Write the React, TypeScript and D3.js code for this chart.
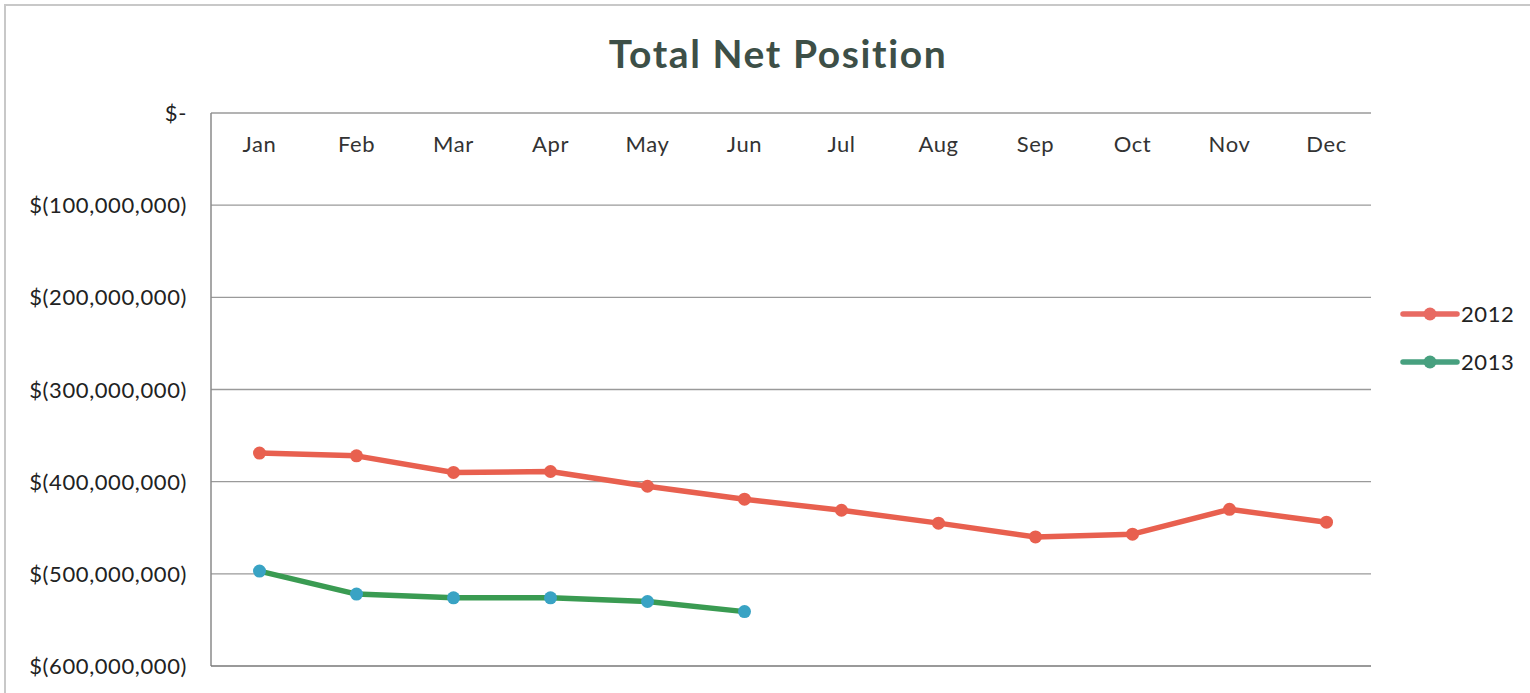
import React from "react";
import * as d3 from "d3";

const months = ["Jan", "Feb", "Mar", "Apr", "May", "Jun", "Jul", "Aug", "Sep", "Oct", "Nov", "Dec"];
const net2012 = [-369, -372, -390, -389, -405, -419, -431, -445, -460, -457, -430, -444].map((v) => v * 1e6);
const net2013 = [-497, -522, -526, -526, -530, -541].map((v) => v * 1e6);
const yTicks = [0, -100e6, -200e6, -300e6, -400e6, -500e6, -600e6];

const series = [
  { name: "2012", values: net2012, line: "#E8604F", dot: "#E8604F", legend: "#E86A62" },
  { name: "2013", values: net2013, line: "#3A9B52", dot: "#39A3C4", legend: "#47A07F" },
];

const W = 1530;
const H = 693;
const margin = { left: 211, right: 155, top: 113, bottom: 27 };
const font = "Lato, 'Open Sans', sans-serif";

const fmt = (v: number) => (v === 0 ? "$-" : `$(${d3.format(",")(Math.abs(v))})`);

export default function App() {
  const x = d3
    .scaleBand()
    .domain(months)
    .range([margin.left, W - margin.right]);

  const y = d3
    .scaleLinear()
    .domain([-600e6, 0])
    .range([H - margin.bottom, margin.top]);

  const line = d3
    .line<number>()
    .x((_, i) => (x(months[i]) as number) + x.bandwidth() / 2)
    .y((d) => y(d));

  return (
    <svg width={W} height={H} style={{ position: "absolute", left: 0, top: 0, background: "#fff" }}>
      <rect x={5} y={5} width={W + 10} height={H} fill="none" stroke="#c8c8c8" strokeWidth={2} />
      <text
        x={778}
        y={68}
        textAnchor="middle"
        fontFamily={font}
        fontWeight="bold"
        fontSize={39}
        letterSpacing={1.6}
        fill="#3D4F47"
      >
        Total Net Position
      </text>

      {yTicks.map((t) => (
        <g key={t}>
          {t !== -600e6 && (
            <line x1={margin.left} x2={W - margin.right - 4} y1={y(t)} y2={y(t)} stroke="#9a9a9a" strokeWidth={1.3} />
          )}
          <text
            x={187}
            y={y(t) + 8}
            textAnchor="end"
            fontFamily={font}
            fontSize={22}
            letterSpacing={0.6}
            fill="#222"
          >
            {fmt(t)}
          </text>
        </g>
      ))}
      <line x1={margin.left} x2={margin.left} y1={margin.top} y2={H - margin.bottom} stroke="#8a8a8a" strokeWidth={1.5} />
      <line x1={margin.left} x2={W - margin.right - 4} y1={y(-600e6)} y2={y(-600e6)} stroke="#777" strokeWidth={1.5} />

      {months.map((m) => (
        <text
          key={m}
          x={(x(m) as number) + x.bandwidth() / 2}
          y={152}
          textAnchor="middle"
          fontFamily={font}
          fontSize={22}
          letterSpacing={0.6}
          fill="#333"
        >
          {m}
        </text>
      ))}

      {series.map((s) => (
        <g key={s.name}>
          <path d={line(s.values) || ""} fill="none" stroke={s.line} strokeWidth={5.5} strokeLinejoin="round" />
          {s.values.map((v, i) => (
            <circle
              key={i}
              cx={(x(months[i]) as number) + x.bandwidth() / 2}
              cy={y(v)}
              r={6.5}
              fill={s.dot}
            />
          ))}
        </g>
      ))}

      {series.map((s, i) => (
        <g key={s.name} transform={`translate(1403, ${314 + i * 48})`}>
          <line x1={0} x2={54} y1={0} y2={0} stroke={s.legend} strokeWidth={5.5} strokeLinecap="round" />
          <circle cx={27} cy={0} r={6.5} fill={s.legend} />
          <text x={58} y={8} fontFamily={font} fontSize={22} letterSpacing={0.6} fill="#222">
            {s.name}
          </text>
        </g>
      ))}
    </svg>
  );
}
